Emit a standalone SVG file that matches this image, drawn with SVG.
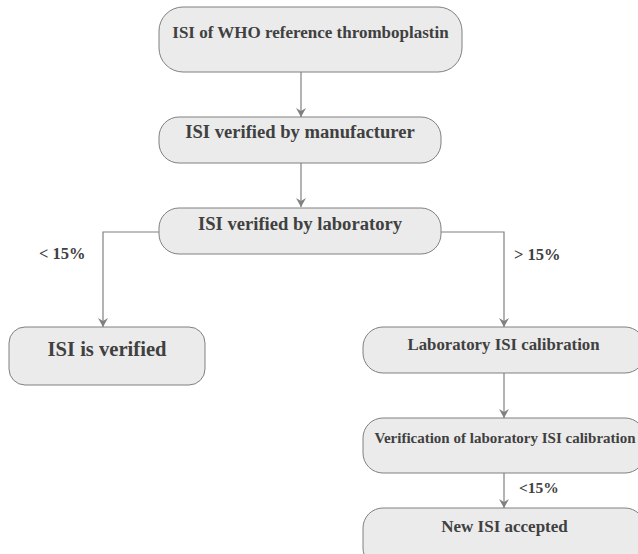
<svg xmlns="http://www.w3.org/2000/svg" width="638" height="554" viewBox="0 0 638 554">
<style>
.box{fill:#ebebeb;stroke:#808080;stroke-width:1}
.t{font-family:"Liberation Serif","Times New Roman",serif;font-weight:bold;fill:#404040;text-anchor:middle}
.lbl{font-family:"Liberation Serif","Times New Roman",serif;font-weight:bold;fill:#404040}
.c{fill:none;stroke:#808080;stroke-width:1.2}
</style>
<defs>
<marker id="a" markerWidth="12" markerHeight="12" refX="10" refY="6" orient="auto" markerUnits="userSpaceOnUse" viewBox="0 0 12 12">
<path d="M1,1 L10,6 L1,11 L4,6 z" fill="#808080"/>
</marker>
</defs>
<rect width="638" height="554" fill="#ffffff"/>
<g id="connectors">
<path class="c" d="M301,72 V117" marker-end="url(#a)"/>
<path class="c" d="M301,163 V207" marker-end="url(#a)"/>
<path class="c" d="M159,232 H103 V327" marker-end="url(#a)"/>
<path class="c" d="M441,232 H504 V327" marker-end="url(#a)"/>
<path class="c" d="M504,373 V418" marker-end="url(#a)"/>
<path class="c" d="M504,473 V508" marker-end="url(#a)"/>
</g>
<g id="labels">
<text class="lbl" x="39" y="259" font-size="16.5">&lt; 15%</text>
<text class="lbl" x="514" y="260" font-size="16.5">&gt; 15%</text>
<text class="lbl" x="519" y="493" font-size="15.5">&lt;15%</text>
</g>
<g id="n1">
<rect class="box" x="159" y="7" width="303" height="65" rx="24"/>
<text class="t" x="310.5" y="38" font-size="17">ISI of WHO reference thromboplastin</text>
</g>
<g id="n2">
<rect class="box" x="159" y="117" width="282" height="46" rx="20"/>
<text class="t" x="300" y="138" font-size="18.6">ISI verified by manufacturer</text>
</g>
<g id="n3">
<rect class="box" x="159" y="208" width="282" height="46" rx="20"/>
<text class="t" x="300" y="230" font-size="18.6">ISI verified by laboratory</text>
</g>
<g id="n4">
<rect class="box" x="9" y="327" width="196" height="58" rx="16"/>
<text class="t" x="107" y="356" font-size="20.6">ISI is verified</text>
</g>
<g id="n5">
<rect class="box" x="363" y="327" width="282" height="46" rx="20"/>
<text class="t" x="503.5" y="350" font-size="16.8">Laboratory ISI calibration</text>
</g>
<g id="n6">
<rect class="box" x="363" y="418" width="282" height="55" rx="20"/>
<text class="t" x="505" y="443" font-size="15">Verification of laboratory ISI calibration</text>
</g>
<g id="n7">
<rect class="box" x="363" y="508" width="282" height="60" rx="20"/>
<text class="t" x="504.5" y="532" font-size="17">New ISI accepted</text>
</g>
</svg>
